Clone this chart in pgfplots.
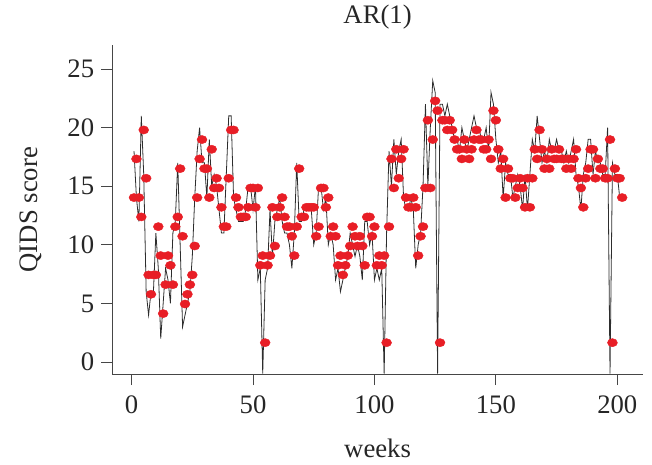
\documentclass[border=0pt]{standalone}
\usepackage{fontspec}
\setmainfont{Liberation Serif}
\usepackage{pgfplots}
\pgfplotsset{compat=1.18}
\usepackage{pgfplotstable}
\definecolor{dotred}{RGB}{232,30,38}
\definecolor{linegray}{RGB}{45,45,45}
\definecolor{axgray}{RGB}{70,70,70}
\newcommand\fs{\fontsize{26.7}{32}\selectfont}

\pgfplotstableread{
t dot line
1 14.03 18
2 17.33 14
3 14.03 12
4 12.38 21
5 19.80 16
6 15.68 6
7 7.43 4
8 5.78 6
9 7.43 6
10 7.43 11
11 11.55 8
12 9.08 2
13 4.13 5
14 6.60 8
15 9.08 7
16 8.25 5
17 6.60 11
18 11.55 12
19 12.38 17
20 16.50 10
21 10.73 3
22 4.95 4
23 5.78 5
24 6.60 6
25 7.43 9
26 9.90 14
27 14.03 18
28 17.33 20
29 18.98 17
30 16.50 17
31 16.50 14
32 14.03 19
33 18.15 15
34 14.85 16
35 15.68 15
36 14.85 13
37 13.20 11
38 11.55 11
39 11.55 16
40 15.68 21
41 19.80 21
42 19.80 14
43 14.03 13
44 13.20 12
45 12.38 12
46 12.38 12
47 12.38 13
48 13.20 15
49 14.85 15
50 14.85 13
51 13.20 15
52 14.85 7
53 8.25 8
54 9.08 -1
55 1.65 7
56 8.25 8
57 9.08 13
58 13.20 9
59 9.90 12
60 12.38 13
61 13.20 14
62 14.03 12
63 12.38 11
64 11.55 11
65 11.55 10
66 10.73 8
67 9.08 11
68 11.55 17
69 16.50 12
70 12.38 12
71 12.38 13
72 13.20 13
73 13.20 13
74 13.20 13
75 13.20 10
76 10.73 11
77 11.55 15
78 14.85 15
79 14.85 13
80 13.20 14
81 14.03 10
82 10.73 11
83 11.55 10
84 10.73 7
85 8.25 8
86 9.08 6
87 7.43 7
88 8.25 8
89 9.08 9
90 9.90 11
91 11.55 10
92 10.73 9
93 9.90 10
94 10.73 9
95 9.90 7
96 8.25 12
97 12.38 12
98 12.38 10
99 10.73 11
100 11.55 7
101 8.25 8
102 9.08 7
103 8.25 8
104 9.08 -1
105 1.65 11
106 11.55 18
107 17.33 15
108 14.85 19
109 18.15 16
110 15.68 18
111 17.33 19
112 18.15 14
113 14.03 13
114 13.20 13
115 13.20 14
116 14.03 13
117 13.20 8
118 9.08 10
119 10.73 11
120 11.55 15
121 14.85 22
122 20.63 15
123 14.85 20
124 18.98 24
125 22.28 23
126 21.45 -1
127 1.65 22
128 20.63 22
129 20.63 21
130 19.80 22
131 20.63 21
132 19.80 20
133 18.98 19
134 18.15 19
135 18.15 18
136 17.33 20
137 18.98 19
138 18.15 18
139 17.33 19
140 18.15 20
141 18.98 21
142 19.80 20
143 18.98 20
144 18.98 19
145 18.15 19
146 18.15 20
147 18.98 18
148 17.33 23
149 21.45 22
150 20.63 19
151 18.15 17
152 16.50 18
153 17.33 14
154 14.03 17
155 16.50 16
156 15.68 16
157 15.68 14
158 14.03 15
159 14.85 16
160 15.68 15
161 14.85 13
162 13.20 16
163 15.68 13
164 13.20 16
165 15.68 19
166 18.15 18
167 17.33 21
168 19.80 19
169 18.15 17
170 16.50 18
171 17.33 17
172 16.50 19
173 18.15 18
174 17.33 18
175 17.33 19
176 18.15 18
177 17.33 18
178 17.33 17
179 16.50 18
180 17.33 17
181 16.50 18
182 17.33 19
183 18.15 16
184 15.68 15
185 14.85 13
186 13.20 16
187 15.68 17
188 16.50 19
189 18.15 19
190 18.15 16
191 15.68 18
192 17.33 17
193 16.50 17
194 16.50 16
195 15.68 16
196 15.68 20
197 18.98 -1
198 1.65 17
199 16.50 16
200 15.68 16
201 15.68 14
202 14.03 nan
}\datatable

\begin{document}
\begin{tikzpicture}
\path[use as bounding box] (-112.4pt,-89.8pt) rectangle (539.6pt,374.2pt);
\begin{axis}[
  at={(0pt,0pt)}, anchor=south west, scale only axis,
  width=530.4pt, height=329.1pt,
  xmin=-7.9, xmax=210.5, ymin=-1.04, ymax=27.04,
  axis x line*=bottom, axis y line*=left,
  axis line style={line width=0.9pt, color=axgray},
  xtick={0,50,100,150,200}, ytick={0,5,10,15,20,25},
  tick align=outside, major tick length=11pt,
  tick style={line width=0.9pt, color=axgray},
  ticklabel style={font=\fs, text=black!85},
  /pgf/number format/assume math mode=true,
  xticklabel style={anchor=north, inner sep=0pt, yshift=-10.8pt},
  yticklabel style={anchor=east, inner sep=0pt, xshift=-7pt},
  clip=true,
]
\addplot[linegray, line width=0.8pt, mark=none] table[x=t, y=line] {\datatable};
\addplot[only marks, mark=*, mark size=4.1pt,
  mark options={fill=dotred, draw=dotred, xscale=1.22}] table[x=t, y=dot] {\datatable};
\end{axis}
\node[anchor=base, text=black!85] at (265.2pt,350.2pt) {\fs AR(1)};
\node[anchor=base, text=black!85] at (265.2pt,-82.8pt) {\fs weeks};
\node[anchor=base, rotate=90, text=black!85] at (-75pt,164.55pt) {\fs QIDS score};
\end{tikzpicture}
\end{document}
